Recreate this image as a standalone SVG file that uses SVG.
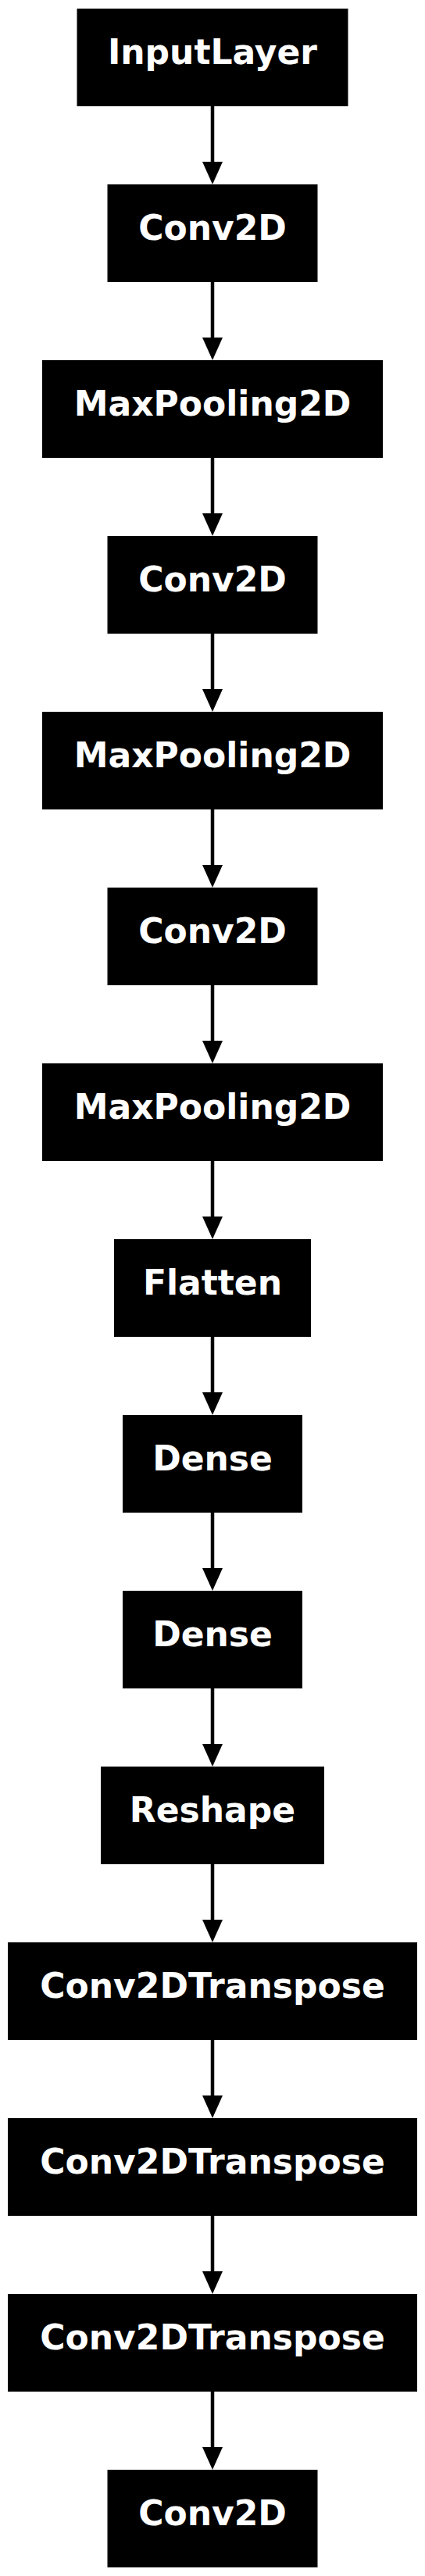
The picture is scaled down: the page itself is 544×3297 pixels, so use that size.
<svg xmlns="http://www.w3.org/2000/svg" width="544" height="3297" viewBox="0 0 544 3297">
<style>
.n rect{fill:#000;stroke:none}
.n text{fill:#fff;font-family:"DejaVu Sans","Liberation Sans",sans-serif;font-weight:bold;font-size:44px;text-anchor:middle}
.e line{stroke:#000;stroke-width:4.5}
.e polygon{fill:#000}
</style>
<rect width="544" height="3297" fill="#fff"/>
<g class="e" id="connectors">
<line x1="272" y1="136" x2="272" y2="208"/><polygon points="259,207 285,207 272,236"/>
<line x1="272" y1="361" x2="272" y2="433"/><polygon points="259,432 285,432 272,461"/>
<line x1="272" y1="586" x2="272" y2="658"/><polygon points="259,657 285,657 272,686"/>
<line x1="272" y1="811" x2="272" y2="883"/><polygon points="259,882 285,882 272,911"/>
<line x1="272" y1="1036" x2="272" y2="1108"/><polygon points="259,1107 285,1107 272,1136"/>
<line x1="272" y1="1261" x2="272" y2="1333"/><polygon points="259,1332 285,1332 272,1361"/>
<line x1="272" y1="1486" x2="272" y2="1558"/><polygon points="259,1557 285,1557 272,1586"/>
<line x1="272" y1="1711" x2="272" y2="1783"/><polygon points="259,1782 285,1782 272,1811"/>
<line x1="272" y1="1936" x2="272" y2="2008"/><polygon points="259,2007 285,2007 272,2036"/>
<line x1="272" y1="2161" x2="272" y2="2233"/><polygon points="259,2232 285,2232 272,2261"/>
<line x1="272" y1="2386" x2="272" y2="2458"/><polygon points="259,2457 285,2457 272,2486"/>
<line x1="272" y1="2611" x2="272" y2="2683"/><polygon points="259,2682 285,2682 272,2711"/>
<line x1="272" y1="2836" x2="272" y2="2908"/><polygon points="259,2907 285,2907 272,2936"/>
<line x1="272" y1="3061" x2="272" y2="3133"/><polygon points="259,3132 285,3132 272,3161"/>
</g>
<g class="n" id="n1"><rect x="98.5" y="11" width="347" height="125"/><text x="272" y="81.5">InputLayer</text></g>
<g class="n" id="n2"><rect x="137.5" y="236" width="269" height="125"/><text x="272" y="306.5">Conv2D</text></g>
<g class="n" id="n3"><rect x="54" y="461" width="436" height="125"/><text x="272" y="531.5">MaxPooling2D</text></g>
<g class="n" id="n4"><rect x="137.5" y="686" width="269" height="125"/><text x="272" y="756.5">Conv2D</text></g>
<g class="n" id="n5"><rect x="54" y="911" width="436" height="125"/><text x="272" y="981.5">MaxPooling2D</text></g>
<g class="n" id="n6"><rect x="137.5" y="1136" width="269" height="125"/><text x="272" y="1206.5">Conv2D</text></g>
<g class="n" id="n7"><rect x="54" y="1361" width="436" height="125"/><text x="272" y="1431.5">MaxPooling2D</text></g>
<g class="n" id="n8"><rect x="146" y="1586" width="252" height="125"/><text x="272" y="1656.5">Flatten</text></g>
<g class="n" id="n9"><rect x="157" y="1811" width="230" height="125"/><text x="272" y="1881.5">Dense</text></g>
<g class="n" id="n10"><rect x="157" y="2036" width="230" height="125"/><text x="272" y="2106.5">Dense</text></g>
<g class="n" id="n11"><rect x="129" y="2261" width="286" height="125"/><text x="272" y="2331.5">Reshape</text></g>
<g class="n" id="n12"><rect x="10" y="2486" width="524" height="125"/><text x="272" y="2556.5">Conv2DTranspose</text></g>
<g class="n" id="n13"><rect x="10" y="2711" width="524" height="125"/><text x="272" y="2781.5">Conv2DTranspose</text></g>
<g class="n" id="n14"><rect x="10" y="2936" width="524" height="125"/><text x="272" y="3006.5">Conv2DTranspose</text></g>
<g class="n" id="n15"><rect x="137.5" y="3161" width="269" height="125"/><text x="272" y="3231.5">Conv2D</text></g>
</svg>
